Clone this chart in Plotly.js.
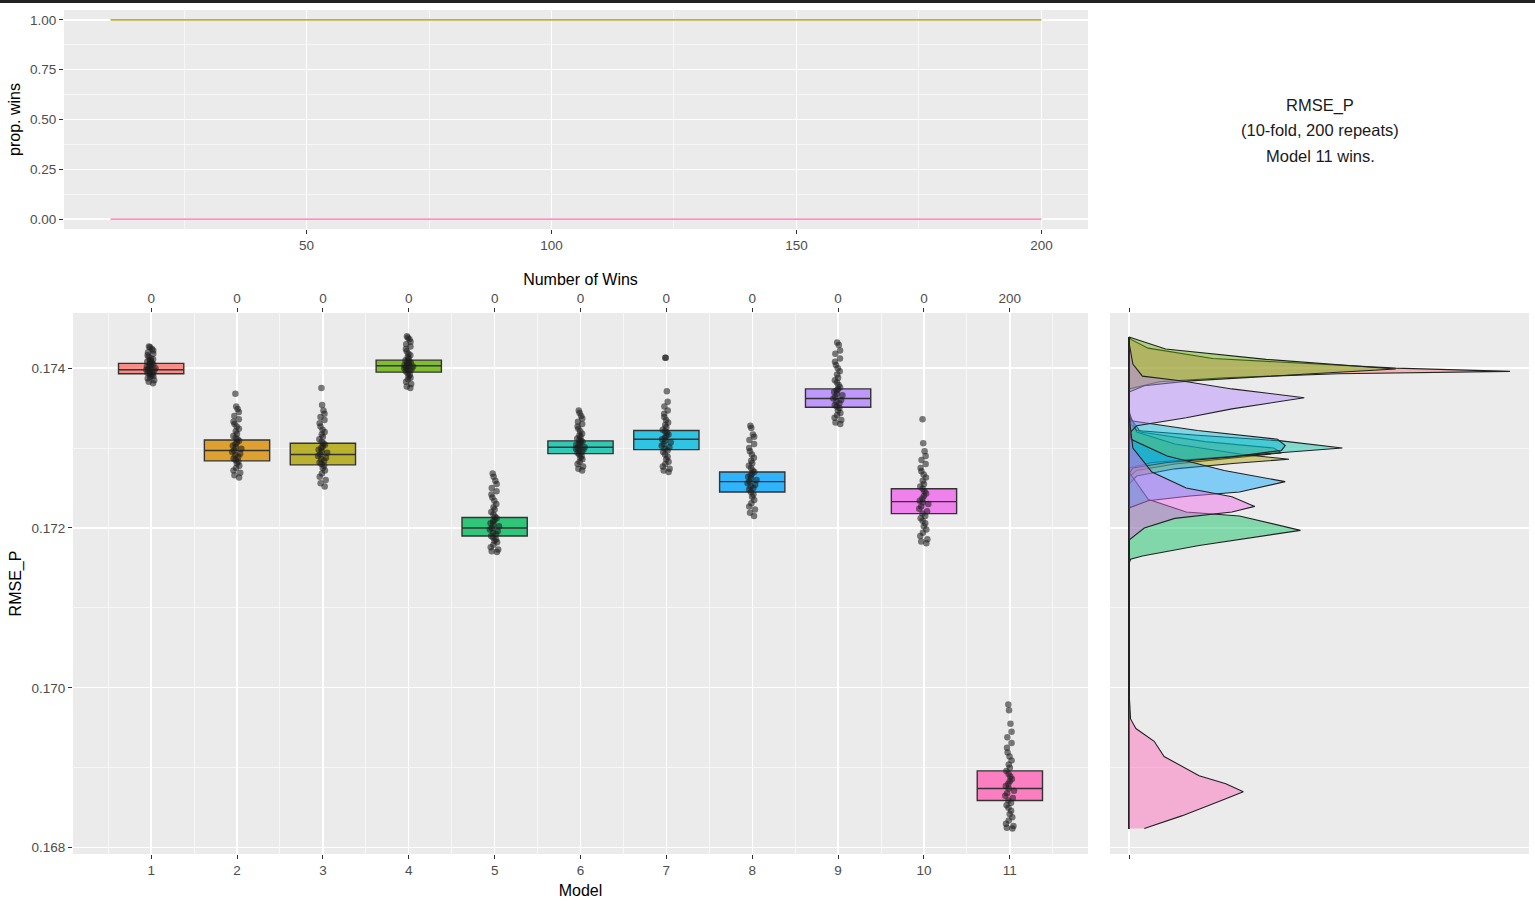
<!DOCTYPE html>
<html>
<head>
<meta charset="utf-8">
<script src="https://cdn.plot.ly/plotly-3.0.1.min.js"></script>
<style>
  html, body { margin: 0; padding: 0; background: #ffffff; }
  #chart { width: 1535px; height: 905px; }
</style>
</head>
<body>
<div id="chart"></div>
<script>
// Models and wins (top axis of the box panel)
const models = [1, 2, 3, 4, 5, 6, 7, 8, 9, 10, 11];
const wins = [0, 0, 0, 0, 0, 0, 0, 0, 0, 0, 200];
const modelColors = ['#F8766D', '#DB8E00', '#AEA200', '#64B200', '#00BD5C', '#00C1A7',
                     '#00BADE', '#00A6FF', '#B385FF', '#EF67EB', '#FF63B6'];

// Box statistics
const q1Vals     = [0.17393, 0.17284, 0.17279, 0.17395, 0.17190, 0.17293, 0.17298, 0.17245, 0.17351, 0.17218, 0.16859];
const medianVals = [0.17398, 0.17297, 0.17292, 0.17403, 0.17200, 0.17301, 0.17311, 0.17258, 0.17362, 0.17233, 0.16874];
const q3Vals     = [0.17406, 0.17310, 0.17306, 0.17410, 0.17213, 0.17309, 0.17322, 0.17270, 0.17374, 0.17249, 0.16896];

// Sample of the jittered RMSE_P points per model
const rmsePoints = [
  [0.17427, 0.17426, 0.17424, 0.17422, 0.17420, 0.17418, 0.17416, 0.17414, 0.17412, 0.17411, 0.17410, 0.17409,
   0.17408, 0.17407, 0.17406, 0.17405, 0.17404, 0.17403, 0.17402, 0.17401, 0.17400, 0.17399, 0.17398, 0.17397,
   0.17396, 0.17395, 0.17394, 0.17393, 0.17392, 0.17391, 0.17390, 0.17389, 0.17387, 0.17385, 0.17383, 0.17381],
  [0.17368, 0.17352, 0.17349, 0.17345, 0.17340, 0.17336, 0.17333, 0.17330, 0.17327, 0.17324, 0.17321, 0.17318,
   0.17315, 0.17313, 0.17311, 0.17309, 0.17307, 0.17305, 0.17303, 0.17301, 0.17299, 0.17297, 0.17295, 0.17293,
   0.17291, 0.17289, 0.17287, 0.17285, 0.17283, 0.17281, 0.17278, 0.17275, 0.17272, 0.17269, 0.17266, 0.17263],
  [0.17375, 0.17354, 0.17347, 0.17343, 0.17339, 0.17335, 0.17331, 0.17327, 0.17323, 0.17320, 0.17317, 0.17314,
   0.17311, 0.17308, 0.17306, 0.17304, 0.17302, 0.17300, 0.17298, 0.17296, 0.17294, 0.17292, 0.17290, 0.17288,
   0.17286, 0.17284, 0.17282, 0.17280, 0.17278, 0.17275, 0.17272, 0.17268, 0.17264, 0.17260, 0.17256, 0.17252],
  [0.17440, 0.17438, 0.17436, 0.17433, 0.17430, 0.17427, 0.17424, 0.17421, 0.17418, 0.17416, 0.17414, 0.17412,
   0.17410, 0.17409, 0.17408, 0.17407, 0.17406, 0.17405, 0.17404, 0.17403, 0.17402, 0.17401, 0.17400, 0.17399,
   0.17398, 0.17397, 0.17396, 0.17394, 0.17392, 0.17390, 0.17388, 0.17386, 0.17383, 0.17380, 0.17377, 0.17375],
  [0.17268, 0.17264, 0.17259, 0.17255, 0.17250, 0.17246, 0.17242, 0.17238, 0.17234, 0.17230, 0.17226, 0.17223,
   0.17220, 0.17217, 0.17214, 0.17212, 0.17210, 0.17208, 0.17206, 0.17204, 0.17202, 0.17200, 0.17198, 0.17196,
   0.17194, 0.17192, 0.17190, 0.17188, 0.17186, 0.17184, 0.17182, 0.17179, 0.17176, 0.17173, 0.17171, 0.17170],
  [0.17347, 0.17344, 0.17340, 0.17337, 0.17333, 0.17330, 0.17327, 0.17324, 0.17321, 0.17318, 0.17316, 0.17314,
   0.17312, 0.17310, 0.17309, 0.17308, 0.17306, 0.17305, 0.17304, 0.17302, 0.17301, 0.17300, 0.17299, 0.17298,
   0.17296, 0.17295, 0.17294, 0.17292, 0.17290, 0.17288, 0.17286, 0.17283, 0.17280, 0.17277, 0.17274, 0.17272],
  [0.17413, 0.17413, 0.17371, 0.17358, 0.17352, 0.17347, 0.17343, 0.17339, 0.17335, 0.17332, 0.17329, 0.17326,
   0.17323, 0.17321, 0.17319, 0.17317, 0.17315, 0.17313, 0.17311, 0.17309, 0.17307, 0.17305, 0.17303, 0.17301,
   0.17299, 0.17297, 0.17295, 0.17292, 0.17289, 0.17286, 0.17283, 0.17280, 0.17277, 0.17274, 0.17272, 0.17270],
  [0.17328, 0.17325, 0.17317, 0.17314, 0.17310, 0.17305, 0.17300, 0.17296, 0.17292, 0.17288, 0.17284, 0.17281,
   0.17278, 0.17275, 0.17272, 0.17270, 0.17268, 0.17266, 0.17264, 0.17262, 0.17260, 0.17258, 0.17256, 0.17254,
   0.17252, 0.17250, 0.17248, 0.17245, 0.17242, 0.17239, 0.17235, 0.17231, 0.17227, 0.17223, 0.17219, 0.17215],
  [0.17432, 0.17429, 0.17422, 0.17418, 0.17412, 0.17408, 0.17404, 0.17400, 0.17396, 0.17392, 0.17388, 0.17385,
   0.17382, 0.17379, 0.17376, 0.17374, 0.17372, 0.17370, 0.17368, 0.17366, 0.17364, 0.17362, 0.17360, 0.17358,
   0.17356, 0.17354, 0.17352, 0.17350, 0.17347, 0.17344, 0.17341, 0.17338, 0.17335, 0.17332, 0.17330],
  [0.17336, 0.17306, 0.17296, 0.17290, 0.17285, 0.17280, 0.17275, 0.17271, 0.17267, 0.17263, 0.17259, 0.17255,
   0.17252, 0.17249, 0.17246, 0.17243, 0.17240, 0.17237, 0.17234, 0.17232, 0.17230, 0.17227, 0.17224, 0.17221,
   0.17218, 0.17215, 0.17212, 0.17209, 0.17206, 0.17202, 0.17198, 0.17194, 0.17190, 0.17186, 0.17183, 0.17181],
  [0.16979, 0.16972, 0.16955, 0.16945, 0.16938, 0.16931, 0.16925, 0.16919, 0.16914, 0.16909, 0.16904, 0.16900,
   0.16896, 0.16892, 0.16889, 0.16886, 0.16883, 0.16880, 0.16877, 0.16874, 0.16871, 0.16868, 0.16865, 0.16862,
   0.16859, 0.16856, 0.16853, 0.16850, 0.16846, 0.16842, 0.16838, 0.16834, 0.16830, 0.16827, 0.16825, 0.16824]
];

// Density curves (RMSE_P value, relative density) per model
const densityY = [
  [0.17439, 0.17436, 0.17425, 0.17412, 0.17400, 0.17396, 0.17393, 0.17388, 0.17383, 0.17374, 0.16824],
  [0.17439, 0.17340, 0.17320, 0.17308, 0.17300, 0.17294, 0.17288, 0.17280, 0.17272, 0.17264, 0.16824],
  [0.17439, 0.17345, 0.17320, 0.17305, 0.17292, 0.17286, 0.17281, 0.17274, 0.17265, 0.17255, 0.16824],
  [0.17439, 0.17435, 0.17424, 0.17411, 0.17399, 0.17393, 0.17384, 0.17378, 0.17370, 0.16824],
  [0.17439, 0.17270, 0.17236, 0.17220, 0.17215, 0.17197, 0.17178, 0.17165, 0.17161, 0.17155, 0.16824],
  [0.17439, 0.17350, 0.17330, 0.17322, 0.17316, 0.17309, 0.17300, 0.17294, 0.17288, 0.17282, 0.17275, 0.16824],
  [0.17439, 0.17345, 0.17334, 0.17322, 0.17311, 0.17303, 0.17297, 0.17289, 0.17282, 0.17275, 0.17268, 0.16824],
  [0.17439, 0.17330, 0.17311, 0.17290, 0.17272, 0.17258, 0.17245, 0.17240, 0.17234, 0.17225, 0.16824],
  [0.17439, 0.17432, 0.17405, 0.17390, 0.17384, 0.17374, 0.17363, 0.17349, 0.17338, 0.17328, 0.17318, 0.16824],
  [0.17439, 0.17340, 0.17300, 0.17270, 0.17250, 0.17239, 0.17227, 0.17220, 0.17212, 0.17200, 0.17185, 0.16824],
  [0.17439, 0.17000, 0.16995, 0.16961, 0.16949, 0.16933, 0.16914, 0.16890, 0.16880, 0.16870, 0.16861, 0.16840, 0.16824]
];
const densityX = [
  [0, 0.5, 5, 22, 70, 100, 55, 25, 8, 0, 0],
  [0, 0, 3, 20, 38, 40, 28, 12, 2, 0, 0],
  [0, 0, 2, 12, 30, 42, 28, 12, 2, 0, 0],
  [0, 2.6, 9.6, 36, 70, 48, 16, 4, 0, 0],
  [0, 0, 5, 15, 29, 45, 18.4, 3.5, 0.4, 0, 0],
  [0, 0, 0.5, 2, 18, 40, 56, 40, 22, 6, 0, 0],
  [0, 0, 0.5, 18, 39, 41, 40, 27, 10, 1, 0, 0],
  [0, 0, 0.5, 10, 25, 41, 29, 16, 5, 0, 0],
  [0, 0, 1, 3.5, 14, 27, 46, 27, 15, 2, 0, 0],
  [0, 0, 1, 6, 15, 27, 33, 27, 12, 4, 0, 0],
  [0, 0, 0, 0.4, 1.8, 6.6, 9.2, 18.4, 25.4, 30, 25.4, 14, 4]
];

// Proportion of wins against number of repeats
const repeats = [10, 20, 30, 40, 50, 60, 70, 80, 90, 100, 110, 120, 130, 140, 150, 160, 170, 180, 190, 200];
const propWinsBest = [1, 1, 1, 1, 1, 1, 1, 1, 1, 1, 1, 1, 1, 1, 1, 1, 1, 1, 1, 1];
const propWinsOthers = [0, 0, 0, 0, 0, 0, 0, 0, 0, 0, 0, 0, 0, 0, 0, 0, 0, 0, 0, 0];

function rgba(hex, a) {
    const n = parseInt(hex.slice(1), 16);
    return 'rgba(' + (n >> 16) + ',' + ((n >> 8) & 255) + ',' + (n & 255) + ',' + a + ')';
}

const FONT = 'Liberation Sans, Arial, sans-serif';
const W = 1535, H = 905;
const px = v => v / W;
const py = v => 1 - v / H;

const traces = [];

// Box plots with jittered points (fences at the hinges: whiskers hidden like the original)
models.forEach((m, i) => {
    traces.push({
        type: 'box',
        x: [m],
        y: [rmsePoints[i]],
        q1: [q1Vals[i]],
        median: [medianVals[i]],
        q3: [q3Vals[i]],
        lowerfence: [q1Vals[i]],
        upperfence: [q3Vals[i]],
        xaxis: 'x', yaxis: 'y',
        width: 0.76,
        boxpoints: 'all',
        jitter: 0.15,
        pointpos: 0,
        whiskerwidth: 0,
        fillcolor: rgba(modelColors[i], 0.8),
        line: { color: '#333333', width: 1.4 },
        marker: { color: 'rgba(30,30,30,0.58)', size: 6.5, line: { width: 0 } },
        showlegend: false,
        hoverinfo: 'y',
    });
});

// Invisible helper so the top "wins" axis is drawn
traces.push({
    type: 'scatter', x: models, y: medianVals, xaxis: 'x2', yaxis: 'y',
    mode: 'markers', marker: { opacity: 0 }, showlegend: false, hoverinfo: 'skip',
});

// Top panel lines
traces.push({
    type: 'scatter', x: repeats, y: propWinsOthers, xaxis: 'x3', yaxis: 'y3',
    mode: 'lines', line: { color: '#FF8FC8', width: 1.8 }, showlegend: false,
});
traces.push({
    type: 'scatter', x: repeats, y: propWinsBest, xaxis: 'x3', yaxis: 'y3',
    mode: 'lines', line: { color: '#BDB13A', width: 1.8 }, showlegend: false,
});

// Density panel
models.forEach((m, i) => {
    traces.push({
        type: 'scatter',
        x: densityX[i],
        y: densityY[i],
        xaxis: 'x4', yaxis: 'y4',
        mode: 'lines',
        fill: 'tozerox',
        fillcolor: rgba(modelColors[i], 0.45),
        line: { color: '#222222', width: 1.1 },
        showlegend: false,
        hoverinfo: 'skip',
    });
});

const tickFont = { family: FONT, size: 13.5, color: '#4D4D4D' };
const titleFont = { family: FONT, size: 16, color: '#000000' };
const rmseRange = [0.16792, 0.17469];

const layout = {
    width: W,
    height: H,
    margin: { l: 0, r: 0, t: 0, b: 0 },
    paper_bgcolor: '#FFFFFF',
    plot_bgcolor: '#EBEBEB',
    showlegend: false,
    boxmode: 'overlay',
    font: { family: FONT },
    xaxis: {
        domain: [px(73), px(1088)],
        anchor: 'y',
        range: [0.09, 11.91],
        tickmode: 'array',
        tickvals: models,
        ticktext: models.map(String),
        ticks: 'outside', ticklen: 4, tickcolor: '#333333', tickwidth: 1,
        tickfont: tickFont,
        showgrid: true, gridcolor: '#FFFFFF', gridwidth: 1.3,
        minor: { tickmode: 'linear', tick0: 0.5, dtick: 1, showgrid: true, gridcolor: '#FFFFFF', gridwidth: 0.6, ticks: '' },
        zeroline: false, showline: false,
        title: { text: 'Model', font: titleFont, standoff: 7 },
    },
    xaxis2: {
        overlaying: 'x',
        anchor: 'y',
        side: 'top',
        range: [0.09, 11.91],
        tickmode: 'array',
        tickvals: models,
        ticktext: wins.map(String),
        ticks: 'outside', ticklen: 4, tickcolor: '#333333', tickwidth: 1,
        tickfont: tickFont,
        showgrid: false, zeroline: false, showline: false,
        title: { text: 'Number of Wins', font: titleFont, standoff: 0 },
    },
    yaxis: {
        domain: [py(854), py(313)],
        anchor: 'x',
        range: rmseRange,
        tick0: 0.168, dtick: 0.002,
        tickformat: '.3f',
        ticks: 'outside', ticklen: 4, tickcolor: '#333333', tickwidth: 1,
        tickfont: tickFont,
        showgrid: true, gridcolor: '#FFFFFF', gridwidth: 1.3,
        minor: { tick0: 0.168, dtick: 0.001, showgrid: true, gridcolor: '#FFFFFF', gridwidth: 0.6, ticks: '' },
        zeroline: false, showline: false,
        title: { text: 'RMSE_P', font: titleFont, standoff: 5 },
    },
    xaxis3: {
        domain: [px(64), px(1088)],
        anchor: 'y3',
        range: [0.5, 209.5],
        tick0: 0, dtick: 50,
        ticks: 'outside', ticklen: 4, tickcolor: '#333333', tickwidth: 1,
        tickfont: tickFont,
        showgrid: true, gridcolor: '#FFFFFF', gridwidth: 1.3,
        minor: { tick0: 0, dtick: 25, showgrid: true, gridcolor: '#FFFFFF', gridwidth: 0.6, ticks: '' },
        zeroline: false, showline: false,
    },
    yaxis3: {
        domain: [py(229), py(10)],
        anchor: 'x3',
        range: [-0.05, 1.05],
        tick0: 0, dtick: 0.25,
        tickformat: '.2f',
        ticks: 'outside', ticklen: 4, tickcolor: '#333333', tickwidth: 1,
        tickfont: tickFont,
        showgrid: true, gridcolor: '#FFFFFF', gridwidth: 1.3,
        minor: { tick0: 0, dtick: 0.125, showgrid: true, gridcolor: '#FFFFFF', gridwidth: 0.6, ticks: '' },
        zeroline: false, showline: false,
        title: { text: 'prop. wins', font: titleFont, standoff: 5 },
    },
    xaxis4: {
        domain: [px(1110), px(1529)],
        anchor: 'y4',
        range: [-5, 105],
        tickmode: 'array',
        tickvals: [0],
        ticktext: [''],
        ticks: 'outside', ticklen: 4, tickcolor: '#333333', tickwidth: 1,
        mirror: 'ticks',
        showgrid: true, gridcolor: '#FFFFFF', gridwidth: 1.3,
        zeroline: false, showline: false,
    },
    yaxis4: {
        domain: [py(854), py(313)],
        anchor: 'x4',
        range: rmseRange,
        tick0: 0.168, dtick: 0.002,
        showticklabels: false,
        ticks: '',
        showgrid: true, gridcolor: '#FFFFFF', gridwidth: 1.3,
        minor: { tick0: 0.168, dtick: 0.001, showgrid: true, gridcolor: '#FFFFFF', gridwidth: 0.6, ticks: '' },
        zeroline: false, showline: false,
    },
    annotations: [
        { text: 'RMSE_P', x: px(1320), y: py(105) },
        { text: '(10-fold, 200 repeats)', x: px(1320), y: py(130) },
        { text: 'Model 11 wins.', x: px(1320), y: py(156) },
    ].map(a => Object.assign(a, {
        xref: 'paper', yref: 'paper', xanchor: 'center', yanchor: 'middle',
        showarrow: false, font: { family: FONT, size: 16.5, color: '#1A1A1A' },
    })),
    shapes: [
        // dark border strip at the very top of the screenshot
        { type: 'rect', xref: 'paper', yref: 'paper', x0: 0, x1: 1, y0: py(3), y1: 1,
          fillcolor: '#222222', line: { width: 0 } },
    ],
};

Plotly.newPlot('chart', traces, layout, { displayModeBar: false, staticPlot: true });
</script>
</body>
</html>
